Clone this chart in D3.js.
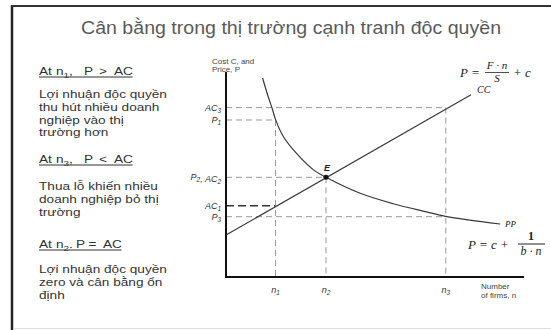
<!DOCTYPE html>
<html>
<head>
<meta charset="utf-8">
<script src="https://cdn.jsdelivr.net/npm/d3@7"></script>
<style>
  body { margin: 0; background: #fff; }
  svg { display: block; }
</style>
</head>
<body>
<div class="chart"></div>
<script>
// title and side notes
const titleText = "Cân bằng trong thị trường cạnh tranh độc quyền";
// heading pieces: [text, x position on the slide, subscript?]
const notes = [
  { head: [["At", 39], ["n", 56], ["1", 0, true], [",", 0], ["P", 84], [">", 99], ["AC", 114]],
    lines: ["Lợi nhuận độc quyền", "thu hút nhiều doanh", "nghiệp vào thị", "trường hơn"] },
  { head: [["At", 39], ["n", 56], ["3", 0, true], [",", 0], ["P", 84], ["<", 99], ["AC", 114]],
    lines: ["Thua lỗ khiến nhiều", "doanh nghiệp bỏ thị", "trường"] },
  { head: [["At", 39], ["n", 56], ["2", 0, true], [".", 0], ["P", 76], ["=", 88.5], ["AC", 103]],
    lines: ["Lợi nhuận độc quyền", "zero và cân bằng ổn", "định"] }
];

// PP curve (n, P)
const ppCurve = [
  [0.74, 10.1], [0.84, 9.25], [0.94, 8.5], [1.0, 8.0], [1.16, 7.12], [1.43, 6.26],
  [1.76, 5.45], [2.02, 5.06], [2.71, 4.25], [3.38, 3.72], [4.05, 3.31],
  [4.44, 3.08], [5.54, 2.69]
];
// CC line end points
const ccLine = [[0, 2.13], [4.95, 9.25]];

// firm counts on the x axis
const firmTicks = [
  { name: "n_1", n: 1.0, from: 7.97 },
  { name: "n_2", n: 2.02, from: 5.06 },
  { name: "n_3", n: 4.44, from: 8.6 }
];
// price / cost levels on the y axis
const priceLevels = [
  { name: "AC_3", p: 8.6, to: 4.44, dark: false },
  { name: "P_1", p: 7.97, to: 1.0, dark: false },
  { name: "P_2, AC_2", p: 5.06, to: 2.02, dark: false },
  { name: "AC_1", p: 3.62, to: 1.0, dark: true },
  { name: "P_3", p: 3.06, to: 4.44, dark: false }
];
const equilibrium = { n: 2.02, p: 5.06 };

const W = 551, H = 330;
const svg = d3.select(".chart").append("svg").attr("width", W).attr("height", H);

// frame
svg.append("line").attr("x1", 12).attr("x2", 12).attr("y1", 5).attr("y2", H)
  .attr("stroke", "#222").attr("stroke-width", 2.5);
svg.append("line").attr("x1", 11).attr("x2", W).attr("y1", 6).attr("y2", 6)
  .attr("stroke", "#333").attr("stroke-width", 2);
svg.append("line").attr("x1", 13).attr("x2", W).attr("y1", 328.5).attr("y2", 328.5)
  .attr("stroke", "#ddd").attr("stroke-width", 1);

const sans = "Liberation Sans, Arial, sans-serif";

// title, a bit stretched like the slide
svg.append("g").attr("transform", "translate(291,34) scale(1.12,1)")
  .append("text").attr("text-anchor", "middle")
  .attr("font-family", sans).attr("font-size", 17.5)
  .attr("fill", "#5a5a5a").text(titleText);

// left notes
const sx = 1.24;
const headY = [75, 163, 248];
const bodyY = [98, 190, 273];
notes.forEach((note, i) => {
  const g = svg.append("g").attr("transform", `translate(39,0) scale(${sx},1)`)
    .attr("font-family", sans).attr("fill", "#333").attr("font-size", 11);
  const head = g.append("text").attr("y", headY[i]);
  note.head.forEach(([t, px, sub]) => {
    const ts = head.append("tspan").text(t);
    if (px) ts.attr("x", (px - 39) / sx);
    if (sub) ts.attr("font-size", 8).attr("dy", 3);
    else if (t === "," || t === ".") ts.attr("dy", -3);
  });
  const last = note.head[note.head.length - 1];
  g.append("line").attr("x1", 0).attr("x2", (last[1] - 39) / sx + 15)
    .attr("y1", headY[i] + 2).attr("y2", headY[i] + 2)
    .attr("stroke", "#333").attr("stroke-width", 0.9);
  note.lines.forEach((l, j) => {
    g.append("text").attr("x", 0).attr("y", bodyY[i] + j * 12.8).text(l);
  });
});

// chart area
const x = d3.scaleLinear().domain([0, 6]).range([226, 523]);
const y = d3.scaleLinear().domain([0, 10]).range([277, 80]);

function subLabel(sel, str) {
  // "AC_3" -> AC with subscript 3
  str.split(/(_\w)/).forEach(part => {
    if (!part) return;
    if (part[0] === "_") {
      sel.append("tspan").attr("font-size", "0.72em").attr("dy", 2).text(part.slice(1));
      sel.append("tspan").attr("dy", -2).text("");
    } else {
      sel.append("tspan").text(part);
    }
  });
}

const dash = svg.append("g").attr("fill", "none");
priceLevels.forEach(d => {
  dash.append("line")
    .attr("x1", x(0)).attr("x2", x(d.to)).attr("y1", y(d.p)).attr("y2", y(d.p))
    .attr("stroke", d.dark ? "#333" : "#9a9a9a")
    .attr("stroke-width", d.dark ? 1.4 : 1)
    .attr("stroke-dasharray", d.dark ? "8,4" : "6,4");
});
firmTicks.forEach(d => {
  dash.append("line")
    .attr("x1", x(d.n)).attr("x2", x(d.n)).attr("y1", y(d.from)).attr("y2", y(0))
    .attr("stroke", "#9a9a9a").attr("stroke-width", 1).attr("stroke-dasharray", "6,4");
});

// curves
svg.append("path").datum(ppCurve)
  .attr("d", d3.line().x(d => x(d[0])).y(d => y(d[1])).curve(d3.curveCatmullRom.alpha(0.5)))
  .attr("fill", "none").attr("stroke", "#3a3a3a").attr("stroke-width", 1.2);
svg.append("path").datum(ccLine)
  .attr("d", d3.line().x(d => x(d[0])).y(d => y(d[1])))
  .attr("fill", "none").attr("stroke", "#3a3a3a").attr("stroke-width", 1.2);

// axes
svg.append("line").attr("x1", x(0)).attr("x2", x(0)).attr("y1", 72).attr("y2", y(0))
  .attr("stroke", "#111").attr("stroke-width", 2);
svg.append("line").attr("x1", x(0) - 1).attr("x2", 524).attr("y1", y(0)).attr("y2", y(0))
  .attr("stroke", "#111").attr("stroke-width", 2);

// equilibrium point
svg.append("circle").attr("cx", x(equilibrium.n)).attr("cy", y(equilibrium.p)).attr("r", 2.5).attr("fill", "#111");
svg.append("text").attr("x", x(equilibrium.n) + 1).attr("y", y(equilibrium.p) - 6)
  .attr("text-anchor", "middle").attr("font-family", sans).attr("font-style", "italic")
  .attr("font-weight", "bold").attr("font-size", 9).attr("fill", "#222").text("E");

// axis labels
const small = svg.append("g").attr("font-family", sans).attr("font-style", "italic")
  .attr("font-size", 9).attr("fill", "#333");
priceLevels.forEach(d => {
  const t = small.append("text").attr("x", x(0) - 5).attr("y", y(d.p) + 3).attr("text-anchor", "end");
  subLabel(t, d.name);
});
firmTicks.forEach(d => {
  const t = small.append("text").attr("x", x(d.n)).attr("y", 293).attr("text-anchor", "middle");
  subLabel(t, d.name);
});
const ax = svg.append("g").attr("font-family", sans).attr("font-size", 8).attr("fill", "#444");
ax.append("text").attr("x", 212).attr("y", 64).text("Cost C, and");
ax.append("text").attr("x", 212).attr("y", 72).text("Price, P");
ax.append("text").attr("x", 481).attr("y", 289).text("Number");
ax.append("text").attr("x", 481).attr("y", 298).text("of firms, n");

// curve names and formulas
const f = svg.append("g").attr("font-family", "Liberation Serif, serif").attr("font-style", "italic").attr("fill", "#222");
f.append("text").attr("x", 477).attr("y", 93).attr("font-size", 10).text("CC");
f.append("text").attr("x", 505).attr("y", 227).attr("font-size", 9).text("PP");

// P = F·n / S + c
f.append("text").attr("x", 460).attr("y", 77).attr("font-size", 13).text("P =");
f.append("text").attr("x", 497).attr("y", 69).attr("font-size", 11).attr("text-anchor", "middle").text("F · n");
f.append("line").attr("x1", 485).attr("x2", 509).attr("y1", 72.5).attr("y2", 72.5).attr("stroke", "#222").attr("stroke-width", 0.8);
f.append("text").attr("x", 497).attr("y", 82).attr("font-size", 11).attr("text-anchor", "middle").text("S");
f.append("text").attr("x", 513).attr("y", 77).attr("font-size", 13).text("+ c");

// P = c + 1 / (b·n)
f.append("text").attr("x", 468).attr("y", 249).attr("font-size", 13).text("P = c +");
f.append("text").attr("x", 531).attr("y", 240).attr("font-size", 12).attr("font-style", "normal").attr("font-weight", "bold").attr("text-anchor", "middle").text("1");
f.append("line").attr("x1", 518).attr("x2", 545).attr("y1", 244).attr("y2", 244).attr("stroke", "#222").attr("stroke-width", 1);
f.append("text").attr("x", 531).attr("y", 255).attr("font-size", 12).attr("text-anchor", "middle").text("b · n");
</script>
</body>
</html>
